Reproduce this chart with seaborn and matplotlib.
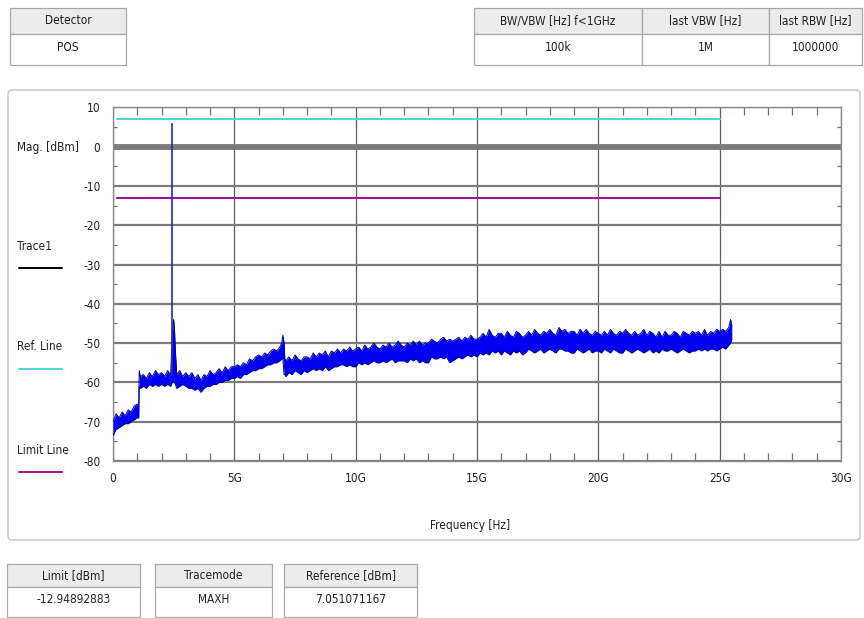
import numpy as np
import matplotlib
matplotlib.use("Agg")
import matplotlib.pyplot as plt
import matplotlib.patches as mpatches
from matplotlib import font_manager
from matplotlib.ticker import MultipleLocator
import seaborn as sns

# ---- data (max-hold trace envelope, dBm) ----
freq_ghz = [
    0.0, 0.125, 0.25, 0.375, 0.5, 0.625, 0.75, 0.875,
    1.0, 1.06, 1.08, 1.125, 1.25, 1.375, 1.5, 1.625, 1.75, 1.875,
    2.0, 2.125, 2.25, 2.375, 2.43, 2.47, 2.5, 2.53, 2.57, 2.625, 2.75, 2.875,
    3.0, 3.125, 3.25, 3.375, 3.5, 3.625, 3.75, 3.875,
    4.0, 4.125, 4.25, 4.375, 4.5, 4.625, 4.75, 4.875,
    5.0, 5.125, 5.25, 5.375, 5.5, 5.625, 5.75, 5.875,
    6.0, 6.125, 6.25, 6.375, 6.5, 6.625, 6.75, 6.875, 6.95, 7.0, 7.05,
    7.08, 7.125, 7.25, 7.375, 7.5, 7.625, 7.75, 7.875,
    8.0, 8.125, 8.25, 8.375, 8.5, 8.625, 8.75, 8.875,
    9.0, 9.125, 9.25, 9.375, 9.5, 9.625, 9.75, 9.875,
    10.0, 10.125, 10.25, 10.375, 10.5, 10.625, 10.75, 10.875,
    11.0, 11.125, 11.25, 11.375, 11.5, 11.625, 11.75, 11.875,
    12.0, 12.125, 12.25, 12.375, 12.5, 12.625, 12.75, 12.875,
    13.0, 13.125, 13.25, 13.375, 13.5, 13.625, 13.75, 13.875,
    14.0, 14.125, 14.25, 14.375, 14.5, 14.625, 14.75, 14.875,
    15.0, 15.125, 15.25, 15.375, 15.5, 15.625, 15.75, 15.875,
    16.0, 16.125, 16.25, 16.375, 16.5, 16.625, 16.75, 16.875,
    17.0, 17.125, 17.25, 17.375, 17.5, 17.625, 17.75, 17.875,
    18.0, 18.125, 18.25, 18.375, 18.5, 18.625, 18.75, 18.875,
    19.0, 19.125, 19.25, 19.375, 19.5, 19.625, 19.75, 19.875,
    20.0, 20.125, 20.25, 20.375, 20.5, 20.625, 20.75, 20.875,
    21.0, 21.125, 21.25, 21.375, 21.5, 21.625, 21.75, 21.875,
    22.0, 22.125, 22.25, 22.375, 22.5, 22.625, 22.75, 22.875,
    23.0, 23.125, 23.25, 23.375, 23.5, 23.625, 23.75, 23.875,
    24.0, 24.125, 24.25, 24.375, 24.5, 24.625, 24.75, 24.875,
    25.0, 25.125, 25.25, 25.375, 25.45, 25.5,
]
trace_hi = [
    -70, -68, -69, -67.5, -68.5, -67, -67.5, -66,
    -65.5, -66, -57, -58.5, -58, -59, -57.5, -58.5, -57, -58,
    -57.5, -58.5, -57, -58, -50, -45, -44, -46, -52, -58, -57, -58.5,
    -57.5, -58.5, -57.5, -59, -58, -59.5, -58, -58.5,
    -57, -58, -57.5, -56.5, -57.5, -56, -57, -56,
    -56, -55.5, -56, -55, -55.5, -54, -54.5, -53.5,
    -53, -53.5, -52.5, -53, -52, -51.5, -52, -51, -50, -48, -50,
    -54, -54.5, -53.5, -54.5, -53, -54, -54.5, -53.5,
    -53.5, -54, -52.5, -53.5, -52.5, -53, -52, -53.5,
    -52, -52.5, -51.5, -52.5, -51.5, -52, -51, -52,
    -51.5, -51, -52, -50.5, -51.5, -51, -50, -51,
    -51.5, -50.5, -51, -50, -51, -50.5, -49.5, -50.5,
    -51, -50, -50.5, -49.5, -50.5, -49.5, -50.5, -50,
    -50, -49, -49.5, -50, -49, -48.5, -49.5, -49,
    -49.5, -49, -48.5, -49.5, -48.5, -49, -48, -49,
    -49, -48.5, -47.5, -48.5, -46.5, -48, -48.5, -47.5,
    -47.5, -48.5, -47, -48, -48.5, -47, -47.5, -48.5,
    -48, -47, -48, -46.5, -47.5, -48, -47, -47.5,
    -46.5, -47.5, -48, -46, -47, -46.5, -47.5, -47,
    -47, -48, -46.5, -47.5, -46.5, -47.5, -48, -47,
    -47.5, -48, -47, -48, -46.5, -47.5, -48, -47,
    -47.5, -46.5, -47.5, -48, -47, -48, -47.5, -46.5,
    -48, -47, -47.5, -48.5, -47, -48.5, -47, -48,
    -48, -47, -47.5, -48.5, -47, -47.5, -48, -47,
    -47.5, -47, -48, -46.5, -48, -47, -47.5, -46.5,
    -47, -46.5, -47, -46, -44, -45.5,
]
trace_lo = [
    -73.5, -72, -71.5, -71, -70.5, -70.5, -70, -69.5,
    -69, -69, -61, -61.5, -61, -61.5, -60.5, -61, -60.5, -61,
    -60.5, -61, -60.5, -61, -60, -60, -59, -60, -60.5, -61.5, -61, -60.5,
    -61, -61.5, -61.5, -62, -61.5, -62.5, -61.5, -61,
    -61, -60.5, -60.5, -60, -60, -59.5, -59.5, -59,
    -59, -58.5, -59, -58, -58, -57.5, -57, -57,
    -56.5, -56.5, -56, -55.5, -55.5, -55, -55, -54.5, -54, -54, -58,
    -58, -58.5, -57.5, -58, -57, -57.5, -58, -57,
    -57.5, -57, -56.5, -57, -56.5, -57, -56, -57,
    -56.5, -56, -56, -55.5, -55.5, -56, -55.5, -56,
    -56, -55, -55.5, -55, -55.5, -55, -54.5, -55,
    -55, -54.5, -55, -54.5, -54, -55, -54.5, -54.5,
    -54.5, -55, -54, -54.5, -54, -55, -54.5, -55,
    -55, -53.5, -54, -54, -53.5, -54, -53.5, -55,
    -54.5, -54, -53.5, -54, -53.5, -53, -53.5, -53,
    -53.5, -52.5, -53, -52.5, -53, -52, -52.5, -52,
    -53, -52, -52.5, -53, -52, -52.5, -52, -53,
    -52.5, -51.5, -52, -52.5, -52, -51.5, -52.5, -52,
    -51.5, -52, -52.5, -51.5, -51.5, -52, -52, -52.5,
    -52.5, -51.5, -52, -52.5, -52, -51.5, -52.5, -52,
    -52, -52.5, -51.5, -52, -52.5, -51.5, -52, -52.5,
    -52.5, -51.5, -52, -52.5, -52, -51.5, -52, -52.5,
    -52, -51.5, -52.5, -52, -52.5, -51.5, -52, -52,
    -51.5, -52, -52.5, -52, -51.5, -52, -52.5, -52,
    -52, -51.5, -52, -51.5, -52, -51.5, -51.5, -52,
    -51.5, -51, -51.5, -50.5, -50, -49,
]
spike_freq_ghz = [2.45]
spike_base_dbm = [-58]
spike_top_dbm = [6.0]

ref_level_dbm = 7.051071167
limit_level_dbm = -12.94892883
line_span_ghz = [0.15, 25.0]

x_ticks_ghz = [0, 5, 10, 15, 20, 25, 30]
x_tick_labels = ["0", "5G", "10G", "15G", "20G", "25G", "30G"]
y_ticks_dbm = [10, 0, -10, -20, -30, -40, -50, -60, -70, -80]
y_tick_labels = ["10", "0", "-10", "-20", "-30", "-40", "-50", "-60", "-70", "-80"]

top_left_headers = ["Detector"]
top_left_values = ["POS"]
top_right_headers = ["BW/VBW [Hz] f<1GHz", "last VBW [Hz]", "last RBW [Hz]"]
top_right_values = ["100k", "1M", "1000000"]
bottom_headers = ["Limit [dBm]", "Tracemode", "Reference [dBm]"]
bottom_values = ["-12.94892883", "MAXH", "7.051071167"]
legend_labels = ["Trace1", "Ref. Line", "Limit Line"]

# ---- style ----
sns.set_theme(style="white")
installed = {f.name for f in font_manager.fontManager.ttflist}
if "Liberation Sans Narrow" in installed:
    plt.rcParams["font.family"] = ["Liberation Sans Narrow", "DejaVu Sans"]
    FS = 9.5
else:
    plt.rcParams["font.family"] = ["DejaVu Sans"]
    plt.rcParams["font.stretch"] = "condensed"
    FS = 8.5
TXT = "#202020"
BORDER = "#a8a8a8"
HDR_BG = "#ececec"
TRACE_BLUE = "#0000f0"
CYAN = "#48d8d8"
PURPLE = "#a0109a"

W, H = 864, 618
fig = plt.figure(figsize=(W / 100, H / 100), dpi=100)
fig.patch.set_facecolor("white")

# pixel-space overlay for panel, tables and side labels
bg = fig.add_axes([0, 0, 1, 1], zorder=0)
bg.set_xlim(0, W)
bg.set_ylim(H, 0)
bg.axis("off")

bg.add_patch(mpatches.FancyBboxPatch((8, 90), 852, 450,
                                     boxstyle="round,pad=0,rounding_size=4",
                                     ec="#c4c4c4", fc="white", lw=1.0))


def draw_cells(edges, y_top, hdr_h, val_h, headers, values):
    for (x0, x1), hdr, val in zip(edges, headers, values):
        bg.add_patch(mpatches.Rectangle((x0, y_top), x1 - x0, hdr_h,
                                        fc=HDR_BG, ec=BORDER, lw=0.9))
        bg.add_patch(mpatches.Rectangle((x0, y_top + hdr_h), x1 - x0, val_h,
                                        fc="white", ec=BORDER, lw=0.9))
        xc = (x0 + x1) / 2
        bg.text(xc, y_top + hdr_h / 2, hdr, ha="center", va="center",
                fontsize=FS, color=TXT)
        bg.text(xc, y_top + hdr_h + val_h * 0.42, val, ha="center", va="center",
                fontsize=FS, color=TXT)


draw_cells([(10, 126)], 8, 26, 31, top_left_headers, top_left_values)
draw_cells([(474, 642), (642, 769), (769, 862)], 8, 26, 31,
           top_right_headers, top_right_values)
draw_cells([(7, 140), (155, 272), (284, 417)], 564, 23, 30,
           bottom_headers, bottom_values)

# side labels / legend
bg.text(17, 147, "Mag. [dBm]", ha="left", va="center", fontsize=FS, color=TXT)
legend_y = [246, 347, 450]
legend_colors = ["black", CYAN, PURPLE]
for lbl, yy, col in zip(legend_labels, legend_y, legend_colors):
    bg.text(17, yy, lbl, ha="left", va="center", fontsize=FS, color=TXT)
    bg.plot([19, 62], [yy + 22, yy + 22], color=col, lw=1.4)

# ---- main spectrum axes ----
ax = fig.add_axes([113 / W, 1 - 461 / H, 728 / W, 353.6 / H], zorder=1)
ax.set_facecolor("white")
ax.set_xlim(0, 30)
ax.set_ylim(-80, 10)

# grid
ax.set_xticks(x_ticks_ghz)
ax.set_xticklabels(x_tick_labels)
ax.set_yticks(y_ticks_dbm)
ax.set_yticklabels(y_tick_labels)
ax.xaxis.set_minor_locator(MultipleLocator(1))
ax.yaxis.set_minor_locator(MultipleLocator(5))
ax.grid(True, axis="y", which="major", color="#7c7c7c", lw=1.6)
ax.grid(True, axis="x", which="major", color="#5e5e5e", lw=0.9)
ax.axhline(0, color="#7a7a7a", lw=4.2, zorder=1.5)

ax.tick_params(axis="both", which="major", length=0, labelsize=FS, colors=TXT)
ax.tick_params(axis="x", which="major", pad=8)
ax.tick_params(axis="y", which="major", pad=9)
ax.tick_params(axis="x", which="minor", direction="in", length=6, width=0.9,
               color="#707070", top=True, bottom=True)
ax.tick_params(axis="y", which="minor", direction="in", length=3, width=0.9,
               color="#707070", left=True, right=True)
for sp in ax.spines.values():
    sp.set_color("#8c8c8c")
    sp.set_linewidth(1.0)

# reference and limit lines
sns.lineplot(x=line_span_ghz, y=[ref_level_dbm] * 2, color=CYAN, lw=1.5, ax=ax)
sns.lineplot(x=line_span_ghz, y=[limit_level_dbm] * 2, color=PURPLE, lw=1.5, ax=ax)

# trace (max-hold band)
ax.fill_between(freq_ghz, trace_lo, trace_hi, color=TRACE_BLUE, lw=0, zorder=3)
sns.lineplot(x=freq_ghz, y=trace_hi, color="#00009a", lw=0.7, ax=ax, zorder=3, sort=False)
sns.lineplot(x=freq_ghz, y=trace_lo, color="#00009a", lw=0.7, ax=ax, zorder=3, sort=False)
ax.vlines(spike_freq_ghz, spike_base_dbm, spike_top_dbm, color="#2a2aa8", lw=1.2, zorder=3)

ax.set_xlabel("Frequency [Hz]", fontsize=FS, color=TXT)
ax.xaxis.set_label_coords(0.49, -0.164)
ax.set_ylabel("")

fig.savefig("out.png", dpi=100, facecolor="white")
